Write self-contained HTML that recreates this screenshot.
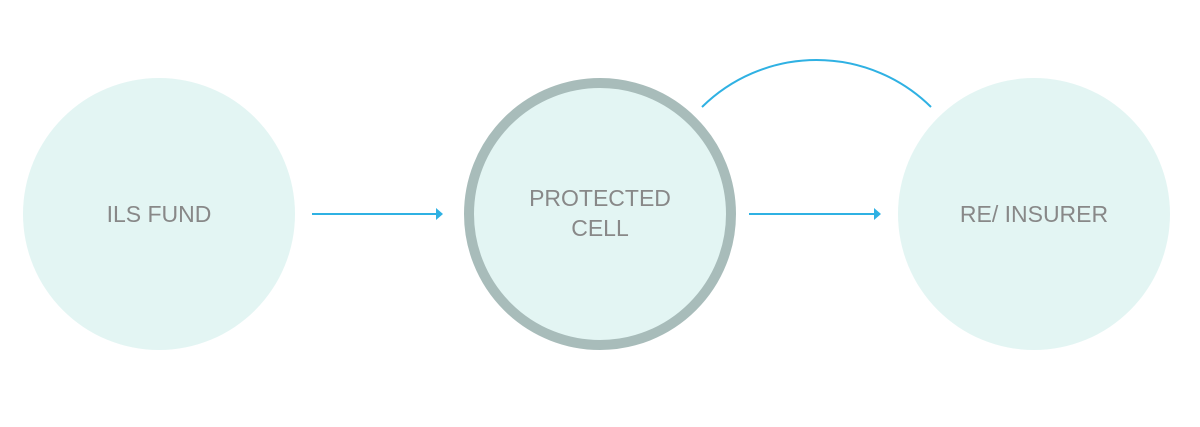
<!DOCTYPE html>
<html><head><meta charset="utf-8"><style>
html,body{margin:0;padding:0;background:#fff;}
svg{display:block}
text{font-family:"Liberation Sans",sans-serif;font-size:23px;fill:#888;text-anchor:middle;}
</style></head><body>
<svg width="1200" height="427" viewBox="0 0 1200 427">
<circle cx="159" cy="214" r="136" fill="#e3f5f3"/>
<circle cx="600" cy="214" r="131" fill="#e3f5f3" stroke="#a8bcba" stroke-width="10"/>
<circle cx="1034" cy="214" r="136" fill="#e3f5f3"/>
<text x="159" y="222">ILS FUND</text>
<text x="600" y="206">PROTECTED</text>
<text x="600" y="236">CELL</text>
<text x="1034" y="222">RE/ INSURER</text>
<g stroke="#2fb1e3" stroke-width="2" fill="none">
<line x1="312" y1="214" x2="437" y2="214"/>
<line x1="749" y1="214" x2="875" y2="214"/>
<path d="M702 107 A163 163 0 0 1 931 107"/>
</g>
<g fill="#2fb1e3">
<polygon points="436,208 443,214 436,220"/>
<polygon points="874,208 881,214 874,220"/>
</g>
</svg>
</body></html>
